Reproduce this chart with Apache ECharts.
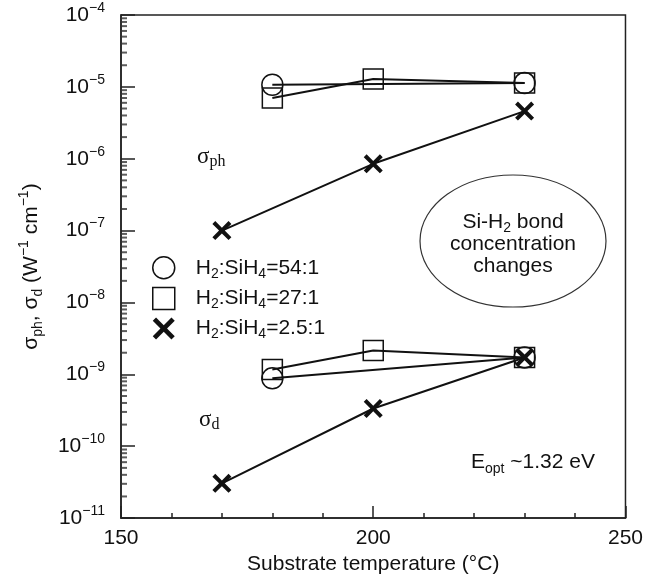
<!DOCTYPE html>
<html>
<head>
<meta charset="utf-8">
<script src="https://cdn.jsdelivr.net/npm/echarts@6/dist/echarts.min.js"></script>
<style>
html, body { margin: 0; padding: 0; background: #fff; }
#chart { width: 646px; height: 580px; }
</style>
</head>
<body>
<div id="chart"></div>
<script>
// substrate temperature (°C) and conductivities (W^-1 cm^-1)
var ratioNames = ['H2:SiH4=54:1', 'H2:SiH4=27:1', 'H2:SiH4=2.5:1'];
var ratioLabels = ['54:1', '27:1', '2.5:1'];

var temps54 = [180, 230];
var photo54 = [1.07e-5, 1.13e-5];
var dark54 = [8.8e-10, 1.72e-9];

var temps27 = [180, 200, 230];
var photo27 = [7.0e-6, 1.29e-5, 1.13e-5];
var dark27 = [1.17e-9, 2.15e-9, 1.72e-9];

var temps25 = [170, 200, 230];
var photo25 = [1.0e-7, 8.5e-7, 4.6e-6];
var dark25 = [3.05e-11, 3.35e-10, 1.72e-9];

// y axis decades and minor tick mantissas
var yExps = [-11, -10, -9, -8, -7, -6, -5, -4];
var minorMantissas = [2, 3, 4, 5, 6, 7, 8, 9];
var xMin = 150, xMax = 250;

var yMajor = yExps.map(function (e) { return Math.pow(10, e); });
// log minor ticks (2..9 in each decade) drawn as short dashes on the left axis
var yMinor = [];
yExps.slice(0, -1).forEach(function (e) {
    minorMantissas.forEach(function (m) { yMinor.push([xMin, m * Math.pow(10, e)]); });
});

var crossPath = 'path://M0,3L3,0L10,7L17,0L20,3L13,10L20,17L17,20L10,13L3,20L0,17L7,10Z';
var symbols = ['circle', 'rect', crossPath];
var sizes = [21, 20, 19];
var fills = [
    { color: 'rgba(0,0,0,0)', borderColor: '#111', borderWidth: 1.5 },
    { color: 'rgba(0,0,0,0)', borderColor: '#111', borderWidth: 1.5 },
    { color: '#111', borderWidth: 0 }
];

function pairs(xs, ys) {
    return xs.map(function (x, i) { return [x, ys[i]]; });
}

function makeSeries(k, xs, ys) {
    return {
        type: 'line',
        name: ratioNames[k],
        data: pairs(xs, ys),
        symbol: symbols[k],
        symbolSize: sizes[k],
        itemStyle: fills[k],
        lineStyle: { color: '#111', width: 2 },
        emphasis: { disabled: true },
        animation: false
    };
}

var font = 'Liberation Sans';

var chart = echarts.init(document.getElementById('chart'));
var option = {
    backgroundColor: '#fff',
    textStyle: { fontFamily: font, color: '#111' },
    grid: { left: 121, right: 20, top: 15, bottom: 57, show: true, borderColor: '#222', borderWidth: 1.5 },
    legend: {
        orient: 'vertical',
        left: 147,
        top: 251,
        itemWidth: 22,
        itemHeight: 22,
        itemGap: 6,
        selectedMode: false,
        data: ratioNames.map(function (n, k) {
            return { name: n, icon: symbols[k], itemStyle: fills[k] };
        }),
        formatter: function (name) {
            var r = ratioLabels[ratioNames.indexOf(name)];
            return '{f|H}{s|2}{t|:SiH}{s|4}{t|=' + r + '}';
        },
        textStyle: {
            rich: {
                f: { fontFamily: font, fontSize: 21, lineHeight: 26, color: '#111', padding: [0, 0, 0, 16] },
                t: { fontFamily: font, fontSize: 21, lineHeight: 26, color: '#111' },
                s: { fontFamily: font, fontSize: 14, lineHeight: 14, color: '#111', verticalAlign: 'bottom' }
            }
        }
    },
    xAxis: {
        type: 'value',
        min: xMin,
        max: xMax,
        interval: 50,
        name: 'Substrate temperature (°C)',
        nameLocation: 'middle',
        nameGap: 30,
        nameTextStyle: { fontFamily: font, fontSize: 21, color: '#111' },
        axisLine: { lineStyle: { color: '#222', width: 1.5 } },
        axisTick: { inside: true, length: 12, lineStyle: { color: '#222', width: 1.5 } },
        minorTick: { show: true, splitNumber: 5, length: 5, lineStyle: { color: '#222', width: 1.5 } },
        axisLabel: { fontFamily: font, fontSize: 21, color: '#111', margin: 10 },
        splitLine: { show: false }
    },
    yAxis: {
        type: 'log',
        logBase: 10,
        min: 1e-11,
        max: 1e-4,
        name: '{g|σ}{gs|ph}{t|, }{g|σ}{gs|d}{t| (W}{sup|−1}{t| cm}{sup|−1}{t|)}',
        nameLocation: 'middle',
        nameGap: 76,
        nameRotate: 90,
        nameTextStyle: {
            rich: {
                t: { fontFamily: font, fontSize: 21, lineHeight: 28, color: '#111' },
                g: { fontFamily: font, fontSize: 21, lineHeight: 28, color: '#111' },
                gs: { fontFamily: font, fontSize: 14, lineHeight: 14, color: '#111', verticalAlign: 'bottom' },
                sup: { fontFamily: font, fontSize: 14, lineHeight: 14, color: '#111', verticalAlign: 'top' }
            }
        },
        axisLine: { lineStyle: { color: '#222', width: 1.5 } },
        axisTick: { inside: true, length: 14, customValues: yMajor, lineStyle: { color: '#222', width: 1.5 } },
        axisLabel: {
            customValues: yMajor,
            margin: 16,
            formatter: function (v) {
                var e = Math.round(Math.log10(v));
                return '{b|10}{e|' + String(e).replace('-', '−') + '}';
            },
            rich: {
                b: { fontFamily: font, fontSize: 21, lineHeight: 28, color: '#111' },
                e: { fontFamily: font, fontSize: 14, lineHeight: 14, color: '#111', verticalAlign: 'top' }
            }
        },
        splitLine: { show: false }
    },
    series: [
        {
            type: 'scatter',
            name: 'minor',
            data: yMinor,
            symbol: 'rect',
            symbolSize: [6, 2],
            symbolOffset: [3, 0],
            itemStyle: { color: '#333' },
            clip: false,
            z: 3
        },
        makeSeries(0, temps54, photo54),
        makeSeries(0, temps54, dark54),
        makeSeries(1, temps27, photo27),
        makeSeries(1, temps27, dark27),
        makeSeries(2, temps25, photo25),
        makeSeries(2, temps25, dark25)
    ],
    graphic: [
        {
            type: 'text', x: 197, y: 157,
            style: {
                text: '{g|σ}{s|ph}', verticalAlign: 'middle',
                rich: {
                    g: { fontFamily: 'Liberation Serif', fontSize: 23, lineHeight: 26, fill: '#111' },
                    s: { fontFamily: 'Liberation Serif', fontSize: 16, lineHeight: 16, fill: '#111', verticalAlign: 'bottom' }
                }
            }
        },
        {
            type: 'text', x: 199, y: 420,
            style: {
                text: '{g|σ}{s|d}', verticalAlign: 'middle',
                rich: {
                    g: { fontFamily: 'Liberation Serif', fontSize: 23, lineHeight: 26, fill: '#111' },
                    s: { fontFamily: 'Liberation Serif', fontSize: 16, lineHeight: 16, fill: '#111', verticalAlign: 'bottom' }
                }
            }
        },
        {
            type: 'text', x: 471, y: 462,
            style: {
                text: '{t|E}{s|opt}{t| ~1.32 eV}', verticalAlign: 'middle',
                rich: {
                    t: { fontFamily: font, fontSize: 21, lineHeight: 28, fill: '#111' },
                    s: { fontFamily: font, fontSize: 14, lineHeight: 14, fill: '#111', verticalAlign: 'bottom' }
                }
            }
        },
        {
            type: 'ellipse',
            shape: { cx: 513, cy: 241, rx: 93, ry: 66 },
            style: { fill: 'none', stroke: '#333', lineWidth: 1.2 }
        },
        {
            type: 'text', x: 513, y: 222,
            style: {
                text: '{t|Si-H}{s|2}{t| bond}', align: 'center', verticalAlign: 'middle',
                rich: {
                    t: { fontFamily: font, fontSize: 21, lineHeight: 26, fill: '#111' },
                    s: { fontFamily: font, fontSize: 14, lineHeight: 14, fill: '#111', verticalAlign: 'bottom' }
                }
            }
        },
        {
            type: 'text', x: 513, y: 244,
            style: { text: 'concentration', align: 'center', verticalAlign: 'middle', fontFamily: font, fontSize: 21, fill: '#111' }
        },
        {
            type: 'text', x: 513, y: 266,
            style: { text: 'changes', align: 'center', verticalAlign: 'middle', fontFamily: font, fontSize: 21, fill: '#111' }
        }
    ]
};
chart.setOption(option);
</script>
</body>
</html>
